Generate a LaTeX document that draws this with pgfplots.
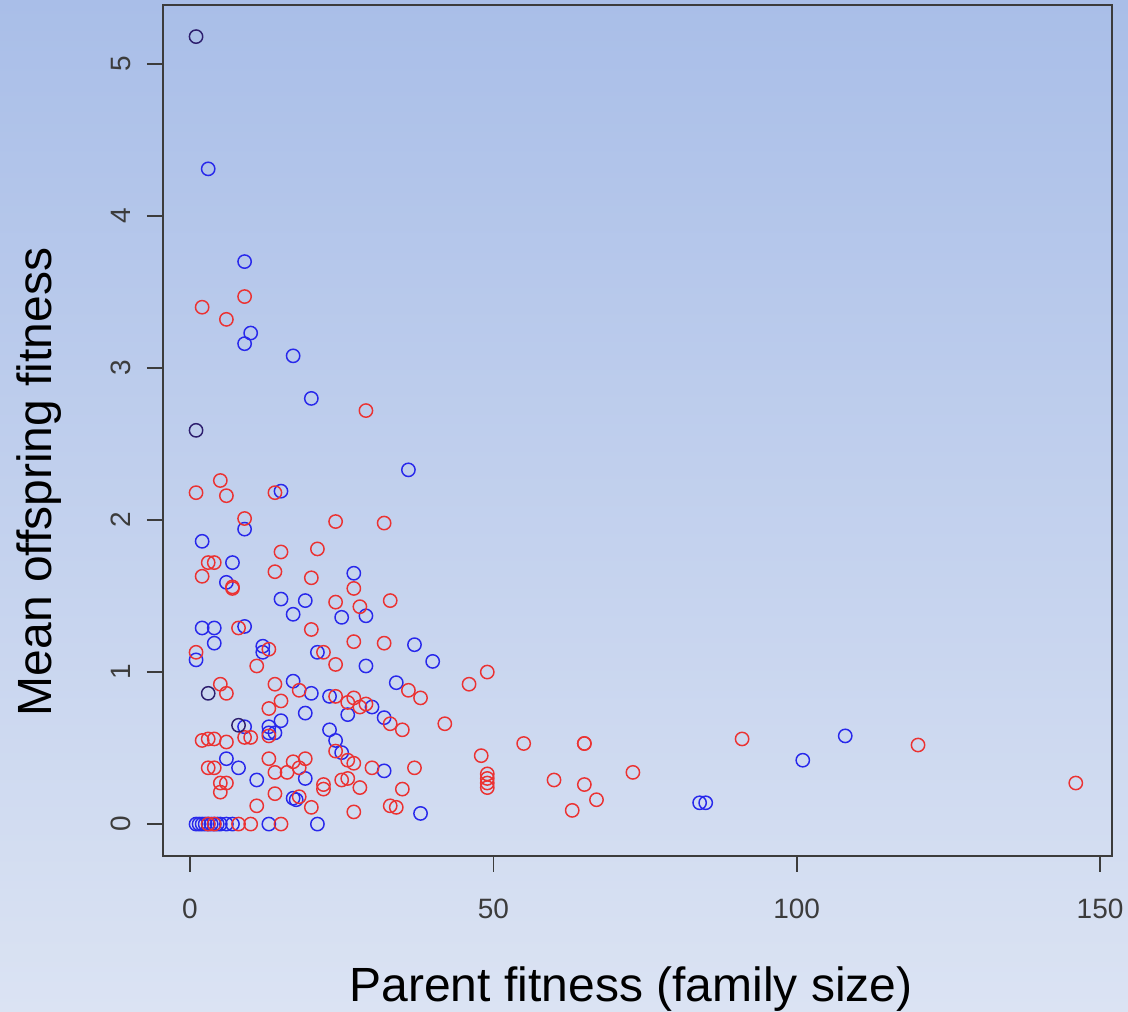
\documentclass[border=0pt]{standalone}
\usepackage{fontspec}
\setmainfont{Liberation Sans}
\usepackage{pgfplots}
\pgfplotsset{compat=1.18}

\definecolor{bgtop}{RGB}{169,190,232}
\definecolor{bgbot}{RGB}{219,227,243}
\definecolor{rblue}{RGB}{40,40,235}
\definecolor{rred}{RGB}{235,50,50}
\definecolor{rdark}{RGB}{45,30,110}
\definecolor{axgray}{RGB}{60,60,60}

\begin{document}
\begin{tikzpicture}[x=0.375pt,y=0.375pt]
\shade[top color=bgtop, bottom color=bgbot] (0,0) rectangle (1128,1012);
\useasboundingbox (0,0) rectangle (1128,1012);

\begin{axis}[
    at={(61.125pt,58.5pt)}, anchor=south west,
    scale only axis,
    width=355.875pt, height=319.125pt,
    xmin=-4.45, xmax=151.97,
    ymin=-0.21, ymax=5.388,
    xtick={0,50,100,150},
    ytick={0,1,2,3,4,5},
    axis line style={axgray, line width=0.6pt},
    tick style={axgray, line width=0.6pt},
    tick align=outside,
    major tick length=6pt,
    xtick pos=bottom, ytick pos=left,
    tick label style={font=\fontsize{10.5}{12}\selectfont, text=axgray},
    /pgf/number format/assume math mode=true,
    yticklabel style={rotate=90, anchor=south},
    xticklabel shift=6.7pt,
    yticklabel shift=2.5pt,
    every axis plot/.append style={only marks, mark=o, mark size=2.5pt, line width=0.55pt},
]

% blue group
\addplot[rblue] coordinates {
    (3,4.31) (9,3.70) (10,3.23) (9,3.16) (17,3.08) (20,2.80) (36,2.33) (15,2.19)
    (9,1.94) (2,1.86) (7,1.72) (6,1.59) (27,1.65) (15,1.48) (19,1.47) (17,1.38)
    (25,1.36) (29,1.37) (2,1.29) (4,1.29) (9,1.30) (4,1.19) (37,1.18) (12,1.17)
    (12,1.13) (21,1.13) (1,1.08) (29,1.04) (40,1.07) (17,0.94) (34,0.93) (20,0.86)
    (23,0.84) (30,0.77) (26,0.72) (19,0.73) (32,0.70) (15,0.68) (13,0.64) (9,0.64)
    (13,0.60) (14,0.60) (23,0.62) (24,0.55) (25,0.47) (6,0.43) (8,0.37) (32,0.35)
    (11,0.29) (19,0.30) (17,0.17) (17.5,0.16) (38,0.07) (84,0.14) (85,0.14)
    (101,0.42) (108,0.58)
    (1,0) (1.5,0) (2,0) (2.5,0) (3,0) (3.5,0) (4,0) (4.5,0) (5,0) (6,0) (7,0)
    (13,0) (21,0)
};

% red group
\addplot[rred] coordinates {
    (9,3.47) (2,3.40) (6,3.32) (29,2.72) (5,2.26) (1,2.18) (6,2.16) (14,2.18)
    (9,2.01) (24,1.99) (32,1.98) (21,1.81) (15,1.79) (3,1.72) (4,1.72) (2,1.63)
    (20,1.62) (14,1.66) (7,1.55) (7,1.56) (27,1.55) (24,1.46) (33,1.47) (28,1.43)
    (8,1.29) (20,1.28) (27,1.20) (32,1.19) (1,1.13) (13,1.15) (22,1.13) (24,1.05)
    (11,1.04) (49,1.00) (46,0.92) (5,0.92) (14,0.92) (6,0.86) (18,0.88) (36,0.88)
    (15,0.81) (24,0.84) (38,0.83) (26,0.80) (27,0.83) (28,0.77) (29,0.79) (13,0.76)
    (33,0.66) (35,0.62) (42,0.66) (9,0.57) (10,0.57) (13,0.58) (2,0.55) (3,0.56)
    (4,0.56) (6,0.54) (55,0.53) (65,0.53) (65,0.53) (91,0.56) (120,0.52) (24,0.48)
    (48,0.45) (13,0.43) (17,0.41) (19,0.43) (26,0.42) (27,0.40) (3,0.37) (4,0.37)
    (14,0.34) (16,0.34) (18,0.37) (30,0.37) (37,0.37) (73,0.34) (49,0.33) (49,0.30)
    (49,0.27) (49,0.24) (5,0.27) (6,0.27) (25,0.29) (26,0.30) (60,0.29) (65,0.26)
    (22,0.26) (22,0.23) (28,0.24) (35,0.23) (146,0.27) (5,0.21) (14,0.20) (18,0.18)
    (67,0.16) (11,0.12) (20,0.11) (33,0.12) (34,0.11) (27,0.08) (63,0.09)
    (3,0) (4,0) (8,0) (10,0) (15,0)
};

% points where both groups coincide
\addplot[rdark] coordinates {
    (1,5.18) (1,2.59) (3,0.86) (8,0.65)
};

\end{axis}

\node[rotate=90, anchor=base, font=\fontsize{18}{21}\selectfont] at (52,530) {Mean offspring fitness};
\node[anchor=base, font=\fontsize{18}{21}\selectfont] at (631,10) {Parent fitness (family size)};
\end{tikzpicture}
\end{document}
